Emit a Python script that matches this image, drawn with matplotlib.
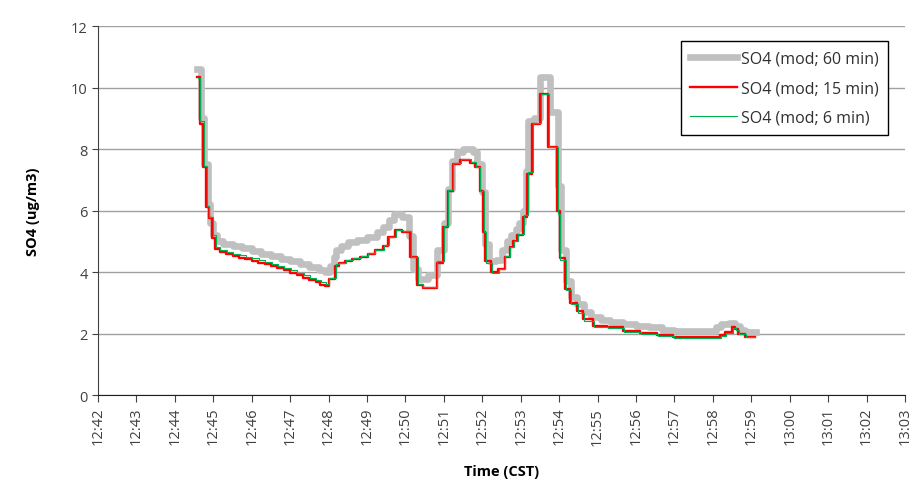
import matplotlib
matplotlib.use("Agg")
import matplotlib.pyplot as plt
from matplotlib.ticker import FuncFormatter, MultipleLocator

# ---- data (time stamps CST, step values) ----
t60 = ["12:44:35", "12:44:41", "12:44:46", "12:44:51", "12:44:55", "12:45:00", "12:45:05",
       "12:45:15", "12:45:30", "12:45:45", "12:46:00", "12:46:15", "12:46:30", "12:46:45",
       "12:47:00", "12:47:15", "12:47:30", "12:47:45", "12:47:55", "12:48:02", "12:48:08",
       "12:48:12", "12:48:20", "12:48:30", "12:48:45", "12:49:00", "12:49:15", "12:49:25",
       "12:49:35", "12:49:42", "12:49:55", "12:50:05", "12:50:12", "12:50:20", "12:50:35",
       "12:50:50", "12:51:00", "12:51:06", "12:51:12", "12:51:20", "12:51:30", "12:51:45",
       "12:51:52", "12:52:00", "12:52:04", "12:52:10", "12:52:22", "12:52:30", "12:52:38",
       "12:52:45", "12:52:52", "12:52:58", "12:53:03", "12:53:08", "12:53:12", "12:53:20",
       "12:53:30", "12:53:46", "12:53:58", "12:54:03", "12:54:10", "12:54:18", "12:54:28",
       "12:54:38", "12:54:50", "12:55:05", "12:55:20", "12:55:40", "12:56:00", "12:56:20",
       "12:56:40", "12:57:00", "12:58:05", "12:58:12", "12:58:25", "12:58:35", "12:58:42",
       "12:58:50", "12:59:08"]
so4_60 = [10.6, 9.0, 7.5, 6.2, 5.6, 5.2, 5.0,
          4.9, 4.85, 4.78, 4.68, 4.6, 4.52, 4.42,
          4.35, 4.25, 4.15, 4.05, 4.0, 4.2, 4.5,
          4.7, 4.85, 4.97, 5.05, 5.13, 5.3, 5.46,
          5.7, 5.9, 5.8, 5.17, 4.1, 3.77, 3.9,
          4.7, 5.6, 6.7, 7.6, 7.9, 8.0, 7.9,
          7.5, 6.6, 4.9, 4.35, 4.4, 4.7, 5.0,
          5.2, 5.4, 5.6, 6.0, 7.3, 8.9, 9.0,
          10.35, 9.2, 6.8, 4.7, 3.7, 3.2, 2.95,
          2.7, 2.55, 2.45, 2.37, 2.3, 2.25, 2.2,
          2.12, 2.08, 2.2, 2.3, 2.35, 2.25, 2.1,
          2.05, 2.05]

t15 = ["12:44:35", "12:44:39", "12:44:44", "12:44:49", "12:44:53", "12:44:58", "12:45:03",
       "12:45:10", "12:45:20", "12:45:30", "12:45:40", "12:45:50", "12:46:00", "12:46:10",
       "12:46:20", "12:46:30", "12:46:40", "12:46:50", "12:47:00", "12:47:10", "12:47:20",
       "12:47:30", "12:47:40", "12:47:47", "12:47:55", "12:48:00", "12:48:10", "12:48:16",
       "12:48:26", "12:48:37", "12:48:49", "12:49:01", "12:49:12", "12:49:25", "12:49:33",
       "12:49:44", "12:49:55", "12:50:07", "12:50:18", "12:50:27", "12:50:49", "12:50:59",
       "12:51:06", "12:51:14", "12:51:25", "12:51:41", "12:51:49", "12:51:56", "12:52:01",
       "12:52:04", "12:52:14", "12:52:25", "12:52:35", "12:52:43", "12:52:48", "12:52:54",
       "12:53:04", "12:53:10", "12:53:18", "12:53:30", "12:53:43", "12:53:57", "12:54:01",
       "12:54:09", "12:54:17", "12:54:28", "12:54:37", "12:54:53", "12:55:15", "12:55:40",
       "12:56:06", "12:56:33", "12:56:58", "12:58:11", "12:58:19", "12:58:30", "12:58:35",
       "12:58:39", "12:58:50", "12:59:06"]
so4_15 = [10.35, 8.8, 7.4, 6.1, 5.75, 5.1, 4.75,
          4.65, 4.58, 4.52, 4.47, 4.42, 4.36, 4.30,
          4.25, 4.19, 4.12, 4.05, 3.98, 3.90, 3.82,
          3.74, 3.66, 3.58, 3.55, 3.77, 4.2, 4.28,
          4.35, 4.42, 4.5, 4.6, 4.7, 4.85, 5.13,
          5.37, 5.3, 4.5, 3.58, 3.47, 4.3, 5.45,
          6.63, 7.5, 7.65, 7.55, 7.4, 6.63, 5.3,
          4.35, 4.0, 4.1, 4.5, 4.8, 5.0, 5.2,
          5.8, 7.2, 8.8, 9.8, 8.05, 6.0, 4.45,
          3.45, 3.0, 2.73, 2.47, 2.25, 2.2, 2.08,
          2.03, 1.95, 1.88, 1.95, 2.05, 2.2, 2.15,
          2.0, 1.9, 1.9]

t6 = ["12:44:36", "12:44:40", "12:44:45", "12:44:50", "12:44:54", "12:44:59", "12:45:04",
      "12:45:11", "12:45:21", "12:45:31", "12:45:41", "12:45:51", "12:46:01", "12:46:11",
      "12:46:21", "12:46:31", "12:46:41", "12:46:51", "12:47:01", "12:47:11", "12:47:21",
      "12:47:31", "12:47:41", "12:47:48", "12:47:56", "12:48:01", "12:48:11", "12:48:17",
      "12:48:27", "12:48:38", "12:48:50", "12:49:02", "12:49:13", "12:49:26", "12:49:34",
      "12:49:45", "12:49:56", "12:50:08", "12:50:19", "12:50:28", "12:50:50", "12:51:00",
      "12:51:07", "12:51:15", "12:51:26", "12:51:42", "12:51:50", "12:51:57", "12:52:02",
      "12:52:05", "12:52:15", "12:52:26", "12:52:36", "12:52:44", "12:52:49", "12:52:55",
      "12:53:05", "12:53:11", "12:53:19", "12:53:31", "12:53:44", "12:53:58", "12:54:02",
      "12:54:10", "12:54:18", "12:54:29", "12:54:38", "12:54:54", "12:55:16", "12:55:41",
      "12:56:07", "12:56:34", "12:56:59", "12:58:12", "12:58:20", "12:58:31", "12:58:36",
      "12:58:40", "12:58:51", "12:59:06"]
so4_6 = [10.3, 8.9, 7.45, 6.15, 5.8, 5.2, 4.82,
         4.72, 4.65, 4.6, 4.55, 4.5, 4.44, 4.38,
         4.33, 4.27, 4.2, 4.13, 4.06, 3.98, 3.9,
         3.82, 3.74, 3.66, 3.62, 3.82, 4.25, 4.3,
         4.38, 4.45, 4.52, 4.62, 4.72, 4.88, 5.15,
         5.38, 5.32, 4.5, 3.6, 3.5, 4.35, 5.5,
         6.68, 7.55, 7.68, 7.58, 7.42, 6.65, 5.3,
         4.3, 3.98, 4.1, 4.52, 4.82, 5.02, 5.25,
         5.85, 7.25, 8.85, 9.8, 8.05, 5.9, 4.4,
         3.4, 2.95, 2.68, 2.42, 2.22, 2.17, 2.05,
         2.0, 1.93, 1.86, 1.92, 2.02, 2.18, 2.12,
         1.98, 1.88, 1.88]


def to_min(s):
    h, m, sec = (int(v) for v in s.split(":"))
    return (h - 12) * 60 + m + sec / 60.0


plt.rcParams['font.family'] = ['Open Sans', 'DejaVu Sans']

fig = plt.figure(figsize=(9.22, 4.85), dpi=100)
ax = fig.add_axes([0.1063, 0.1835, 0.8753, 0.7608])

ax.step([to_min(s) for s in t60], so4_60, where='post', color='#C0C0C0', lw=4.8,
        label='SO4 (mod; 60 min)')
ax.step([to_min(s) for s in t15], so4_15, where='post', color='#FF0000', lw=1.7,
        label='SO4 (mod; 15 min)')
ax.step([to_min(s) for s in t6], so4_6, where='post', color='#00B050', lw=0.8,
        label='SO4 (mod; 6 min)')

ax.set_xlim(42, 63)
ax.set_ylim(0, 12)
ax.xaxis.set_major_locator(MultipleLocator(1))
ax.yaxis.set_major_locator(MultipleLocator(2))
ax.xaxis.set_major_formatter(FuncFormatter(
    lambda v, p: f"{12 + int(round(v)) // 60}:{int(round(v)) % 60:02d}"))
ax.tick_params(axis='x', labelrotation=90, labelsize=10.5, length=5, direction='out',
               color='#404040', labelcolor='#404040')
ax.tick_params(axis='y', labelsize=10.5, length=4, direction='out', color='#404040',
               labelcolor='#404040')

ax.grid(axis='y', color='#A0A0A0', lw=1)
ax.set_axisbelow(True)
for side in ['top', 'right']:
    ax.spines[side].set_visible(False)
ax.spines['left'].set_color('#404040')
ax.spines['bottom'].set_color('#202020')

ax.set_ylabel('SO4 (ug/m3)', fontweight='bold', fontsize=10.5, labelpad=22)
ax.set_xlabel('Time (CST)', fontweight='bold', fontsize=10.5, labelpad=14)

leg = ax.legend(loc='upper right', bbox_to_anchor=(0.979, 0.959), borderaxespad=0,
                fontsize=11.5, fancybox=False, framealpha=1, edgecolor='black',
                handlelength=2.9, handletextpad=0.25, borderpad=0.6, labelspacing=0.85)
leg.get_frame().set_linewidth(1.0)
for txt in leg.get_texts():
    txt.set_color('#303030')

fig.savefig('out.png', dpi=100)
